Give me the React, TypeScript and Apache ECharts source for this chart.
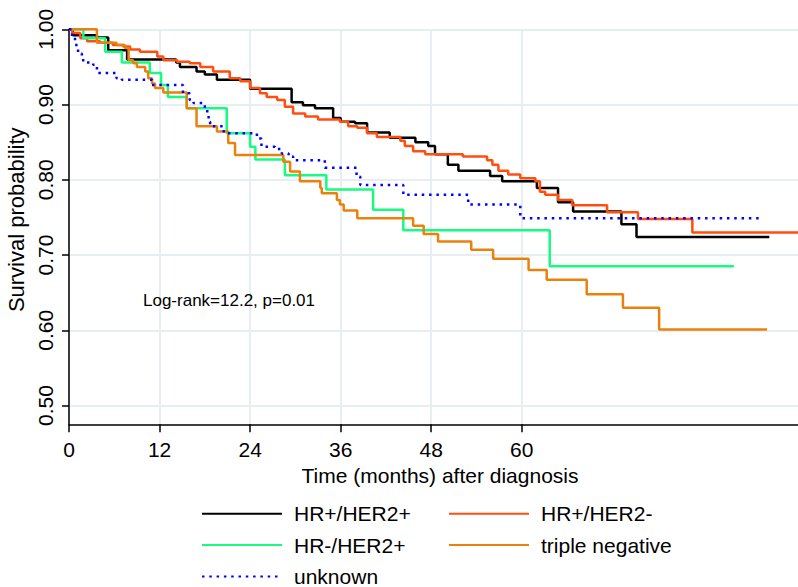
import React, { useEffect, useRef } from "react";
import * as echarts from "echarts";

const FONT = "'Liberation Sans', Arial, Helvetica, sans-serif";

// Axis tick values
const xTickValues = [0, 12, 24, 36, 48, 60];
const yTickValues = [0.5, 0.6, 0.7, 0.8, 0.9, 1.0];

// Series names
const nameHRpHER2p = "HR+/HER2+";
const nameHRpHER2n = "HR+/HER2-";
const nameHRnHER2p = "HR-/HER2+";
const nameTriple = "triple negative";
const nameUnknown = "unknown";

// HR+/HER2+ (time in months, survival probability after each step)
const hrPosHer2PosTime = [0, 0.5, 3.7, 5.2, 7.7, 14.2, 14.7, 16.9, 18.0, 19.6, 24.0, 29.5, 31.0, 32.6, 35.0, 36.0, 37.9, 39.5, 42.5, 45.9, 47.6, 48.5, 50.2, 51.6, 55.8, 57.4, 62.0, 64.8, 66.8, 73.2, 75.2, 92.8];
const hrPosHer2PosSurv = [1.0, 0.992, 0.989, 0.972, 0.96, 0.956, 0.95, 0.944, 0.94, 0.933, 0.921, 0.903, 0.899, 0.895, 0.882, 0.877, 0.875, 0.863, 0.856, 0.85, 0.845, 0.834, 0.82, 0.812, 0.805, 0.798, 0.789, 0.77, 0.758, 0.741, 0.724, 0.724];

// HR+/HER2-
const hrPosHer2NegTime = [0, 0.4, 1.5, 2.4, 4.1, 5.8, 7.2, 8.1, 9.4, 11.7, 12.5, 14.3, 16.0, 17.4, 19.1, 21.3, 22.7, 24.0, 25.3, 26.2, 27.6, 28.6, 29.7, 31.3, 33.0, 35.9, 37.0, 38.2, 39.5, 40.8, 43.9, 44.5, 45.6, 47.2, 52.2, 55.4, 56.1, 56.9, 58.2, 59.8, 61.8, 62.4, 63.1, 64.8, 66.7, 71.3, 75.4, 82.6, 96.6];
const hrPosHer2NegSurv = [1.0, 0.995, 0.988, 0.984, 0.982, 0.979, 0.977, 0.973, 0.97, 0.964, 0.959, 0.957, 0.955, 0.95, 0.944, 0.935, 0.931, 0.922, 0.915, 0.91, 0.906, 0.897, 0.888, 0.884, 0.88, 0.877, 0.871, 0.869, 0.862, 0.857, 0.852, 0.845, 0.838, 0.834, 0.831, 0.826, 0.82, 0.812, 0.807, 0.802, 0.798, 0.784, 0.78, 0.773, 0.766, 0.757, 0.748, 0.73, 0.73];

// HR-/HER2+
const hrNegHer2PosTime = [0, 1.9, 4.8, 7.0, 10.7, 12.2, 13.1, 15.6, 20.9, 24.0, 24.7, 28.6, 34.1, 40.3, 44.3, 63.7, 88.1];
const hrNegHer2PosSurv = [1.0, 0.988, 0.97, 0.956, 0.942, 0.926, 0.91, 0.895, 0.862, 0.844, 0.827, 0.806, 0.787, 0.76, 0.733, 0.685, 0.685];

// triple negative
const tripleNegTime = [0, 3.7, 6.3, 7.4, 7.9, 8.5, 9.0, 10.1, 10.5, 11.0, 11.4, 12.5, 15.6, 16.9, 19.6, 21.1, 22.0, 28.4, 29.3, 30.6, 33.3, 33.5, 35.5, 35.9, 36.4, 38.2, 45.6, 47.0, 48.9, 53.3, 56.2, 60.9, 63.3, 68.6, 73.4, 78.2, 92.5];
const tripleNegSurv = [1.0, 0.982, 0.979, 0.975, 0.959, 0.955, 0.95, 0.944, 0.935, 0.928, 0.922, 0.916, 0.895, 0.871, 0.864, 0.849, 0.833, 0.824, 0.811, 0.798, 0.789, 0.782, 0.773, 0.767, 0.759, 0.749, 0.739, 0.728, 0.718, 0.707, 0.695, 0.68, 0.667, 0.648, 0.63, 0.601, 0.601];

// unknown
const unknownTime = [0, 0.4, 0.8, 1.2, 1.7, 2.3, 3.2, 3.7, 6.3, 7.0, 11.0, 15.1, 16.0, 16.5, 18.0, 18.5, 18.7, 20.5, 24.9, 25.5, 27.3, 28.2, 29.1, 29.7, 33.9, 38.1, 38.6, 44.3, 52.9, 59.8, 91.6];
const unknownSurv = [1.0, 0.99, 0.979, 0.968, 0.959, 0.956, 0.953, 0.942, 0.935, 0.933, 0.926, 0.915, 0.906, 0.902, 0.891, 0.877, 0.871, 0.862, 0.855, 0.844, 0.841, 0.835, 0.831, 0.826, 0.816, 0.804, 0.793, 0.78, 0.767, 0.749, 0.749];

const annotationText = "Log-rank=12.2, p=0.01";

function zip(t: number[], s: number[]) {
  const n = Math.min(t.length, s.length);
  const out: number[][] = [];
  for (let i = 0; i < n; i++) out.push([t[i], s[i]]);
  return out;
}

function km(name: string, t: number[], s: number[], color: string, dash?: number[]) {
  return {
    name,
    type: "line",
    step: "end",
    symbol: "none",
    showSymbol: false,
    data: zip(t, s),
    itemStyle: { color },
    lineStyle: { color, width: 2.5, type: dash ? dash : "solid", cap: "butt" },
    emphasis: { disabled: true },
  };
}

export default function App() {
  const ref = useRef<HTMLDivElement>(null);
  useEffect(() => {
    document.body.style.margin = "0";
    const chart = echarts.init(ref.current!, null, { renderer: "svg" });
    const legendText = {
      fontSize: 21,
      color: "#000",
      fontFamily: FONT,
      lineHeight: 20,
      padding: [0, 0, 0, 7],
    };
    const legendCommon = {
      orient: "vertical",
      top: 503.3,
      padding: 0,
      itemWidth: 80,
      itemHeight: 20,
      itemGap: 10.3,
      selectedMode: false,
      itemStyle: { opacity: 0, borderWidth: 0 },
      textStyle: legendText,
    };
    chart.setOption({
      animation: false,
      backgroundColor: "#ffffff",
      textStyle: { fontFamily: FONT },
      grid: { left: 69, right: 0, top: 29.3, bottom: 162.7, outerBoundsMode: "none" },
      xAxis: {
        type: "value",
        min: 0,
        max: 96.6,
        name: "Time (months) after diagnosis",
        nameLocation: "middle",
        nameGap: 33,
        nameTextStyle: { fontSize: 21, color: "#000", fontFamily: FONT, padding: [0, 0, 0, 13] },
        axisLine: { show: true, onZero: false, lineStyle: { color: "#000", width: 1.5 } },
        axisTick: { show: true, length: 8, customValues: xTickValues, lineStyle: { color: "#000", width: 1.5 } },
        axisLabel: { customValues: xTickValues, fontSize: 21, color: "#000", margin: 15, fontFamily: FONT },
        splitLine: { show: true, lineStyle: { color: "#e6eef1", width: 2 } },
      },
      yAxis: {
        type: "value",
        min: 0.475,
        max: 1.0,
        name: "Survival probability",
        nameLocation: "middle",
        nameGap: 37,
        nameRotate: 90,
        nameTextStyle: { fontSize: 22, color: "#000", fontFamily: FONT, padding: [0, 0, 0, 14] },
        axisLine: { show: true, onZero: false, lineStyle: { color: "#000", width: 1.5 } },
        axisTick: { show: true, length: 7, customValues: yTickValues, lineStyle: { color: "#000", width: 1.5 } },
        axisLabel: {
          customValues: yTickValues,
          rotate: 90,
          margin: 13,
          fontSize: 21,
          color: "#000",
          fontFamily: FONT,
          formatter: (v: number) => v.toFixed(2),
        },
        splitLine: { show: true, lineStyle: { color: "#e6eef1", width: 2 } },
      },
      legend: [
        { ...legendCommon, left: 201, data: [nameHRpHER2p, nameHRnHER2p, nameUnknown] },
        { ...legendCommon, left: 448, data: [nameHRpHER2n, nameTriple] },
      ],
      graphic: [
        {
          type: "text",
          left: 143,
          top: 292,
          z: 100,
          style: { text: annotationText, fontSize: 17, fontFamily: FONT, fill: "#000" },
        },
      ],
      series: [
        km(nameHRpHER2p, hrPosHer2PosTime, hrPosHer2PosSurv, "#000000"),
        km(nameHRpHER2n, hrPosHer2NegTime, hrPosHer2NegSurv, "#ff4e10"),
        km(nameHRnHER2p, hrNegHer2PosTime, hrNegHer2PosSurv, "#17fb80"),
        km(nameTriple, tripleNegTime, tripleNegSurv, "#e8820c"),
        km(nameUnknown, unknownTime, unknownSurv, "#0000ff", [2.5, 4.8]),
      ],
    });
    return () => chart.dispose();
  }, []);
  return <div ref={ref} style={{ width: 798, height: 587 }} />;
}
